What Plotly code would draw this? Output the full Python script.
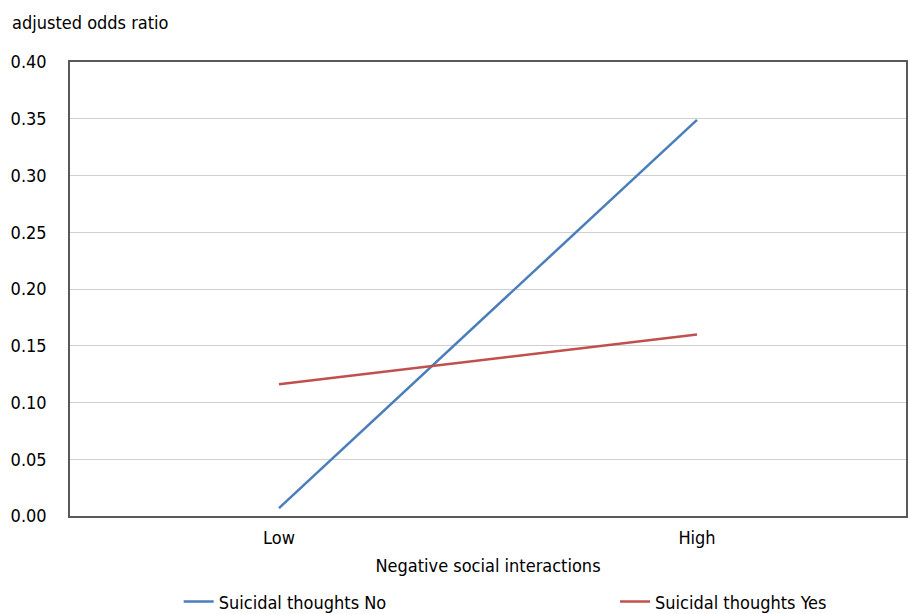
import plotly.graph_objects as go

categories = ["Low", "High"]
series_no = [0.007, 0.349]
series_yes = [0.116, 0.160]
y_ticks = [0.0, 0.05, 0.10, 0.15, 0.20, 0.25, 0.30, 0.35, 0.40]

FONT = "Liberation Sans Narrow, Arial Narrow, DejaVu Sans Condensed, sans-serif"

fig = go.Figure()
fig.add_trace(go.Scatter(x=categories, y=series_no, mode="lines", name="Suicidal thoughts No",
                         line=dict(color="#4a7ebb", width=2.5), legend="legend"))
fig.add_trace(go.Scatter(x=categories, y=series_yes, mode="lines", name="Suicidal thoughts Yes",
                         line=dict(color="#c0504d", width=2.5), legend="legend2"))

leg_common = dict(orientation="h", yanchor="middle", y=-0.189, xanchor="left",
                  font=dict(size=18), bgcolor="rgba(0,0,0,0)")

fig.update_layout(
    width=908, height=614,
    margin=dict(l=70, r=2, t=62, b=98, autoexpand=False),
    paper_bgcolor="white", plot_bgcolor="white",
    font=dict(family=FONT, size=18, color="black"),
    showlegend=True,
    legend=dict(x=0.130, **leg_common),
    legend2=dict(x=0.652, **leg_common),
)
fig.add_annotation(text="adjusted odds ratio", xref="paper", yref="paper", x=-0.0715, y=1.088,
                   xanchor="left", yanchor="middle", showarrow=False, font=dict(size=18))

fig.update_xaxes(type="category", range=[-0.5, 1.5], showline=True, linecolor="#595959",
                 linewidth=1.5, mirror=True, showgrid=False, ticks="", automargin=False,
                 ticklabelstandoff=5,
                 title=dict(text="Negative social interactions", font=dict(size=18), standoff=12))
fig.update_yaxes(range=[0, 0.40], tickvals=y_ticks, tickformat=".2f", showline=True,
                 linecolor="#595959", linewidth=1.5, mirror=True, showgrid=True,
                 gridcolor="#d0d0d0", gridwidth=1, zeroline=False, ticks="", automargin=False,
                 ticklabelstandoff=18)

fig.write_html("out.html", config={"displayModeBar": False},
               post_script="document.body.style.margin='0';document.body.style.overflow='hidden';")
